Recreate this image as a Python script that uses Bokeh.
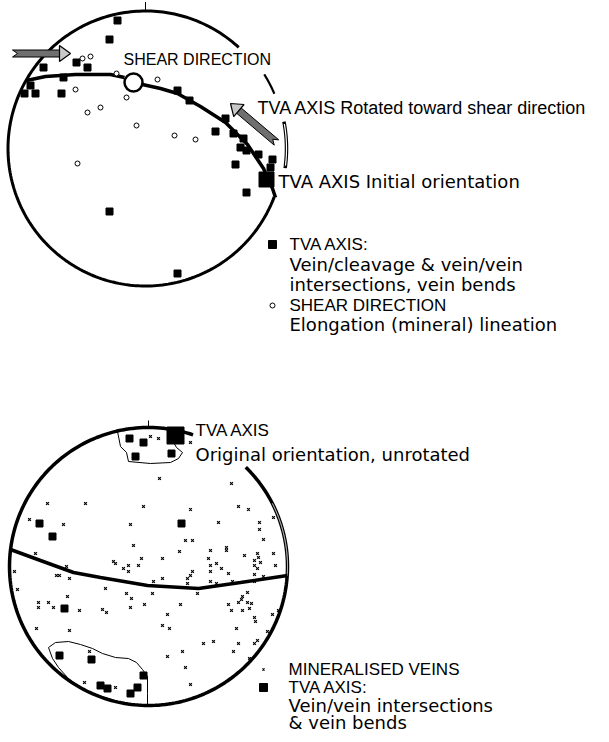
import numpy as np
from bokeh.plotting import figure
from bokeh.models import Range1d
from bokeh.embed import file_html
from bokeh.resources import INLINE
from bokeh.core.properties import value

# ---------------- DATA (offsets from each net centre, y up, net radius ~138) ----------------
# Upper net: TVA axes (filled squares)
top_tva_x = [-28, -36, -69, -58, -102, -82, -115, -121, -110, -84, 32, 44, 80, 70, 88, 98, 95, 101, 113, 127, 90, 125, 101, -36, 32]
top_tva_y = [128, 109, 86, 81, 81, 71, 63, 55, 55, 55, 58, 48, 30, 17, 15, 10, 1, -2, -6, -11, -16, -19, -44, -63, -125]
top_tva_initial_x = [121]
top_tva_initial_y = [-31]
# Upper net: shear direction / elongation lineations (open circles)
top_shear_x = [-63, -55, -29, -70, -19, -45, -58, -9, 12, 29, 50, -68]
top_shear_y = [90, 92, 75, 59, 51, 41, 36, 23, 69, 13, 9, -15]
top_shear_mean_x = [-12]
top_shear_mean_y = [66]
# Upper net: great circle (two parts either side of the mean shear direction)
top_gc_left_x = [-119, -100, -70, -35, -21]
top_gc_left_y = [68, 72, 74, 74, 71]
top_gc_right_x = [-3, 15, 32, 55, 80, 102, 118, 127, 130]
top_gc_right_y = [64, 60, 55, 42, 26, 4, -20, -40, -49]
# Upper net: shear-sense arrows (tail, tip)
arrow1_tail, arrow1_tip = (-133, 95), (-75, 95)
arrow2_tail, arrow2_tip = (131, 6), (85, 45)

# Lower net: TVA axes
bot_tva_x = [-19, -5, -13, 23, -109, -96, 33, -84, -89, -57, -48, -41, -5, -11, -18]
bot_tva_y = [128, 124, 110, 113, 43, 30, 43, -42, -89, -93, -119, -122, -109, -121, -127]
bot_tva_orig_x = [27]
bot_tva_orig_y = [131]
# Lower net: mineralised veins (poles)
vein_x = [2, 10, 42, 11, 83, -101, -63, -5, 42, 90, 100, 125, -119, -85, -18, 70, 111, 111, -15, 37, 44, 115,
          31, 62, 78, 78, 96, 125, 109, 110, 106, 112, 106, 109, 127, -7, 14, 60, -35, -33, -25, -20, -20, -10,
          68, 62, 62, 73, 80, 106, 115, 44, 42, 39, 39, 14, 5, 62, 68, 84, 106, -113, -134, -92, -89, -79, -82,
          -131, -43, -22, -17, -18, -4, 4, -110, -110, -100, -95, -81, -69, -46, -42, -112, -79, 49, 32, 19, 14,
          21, 99, 94, 93, 80, 83, 90, 99, 103, 101, 94, 106, 107, 124, 130, 88, 119, 109, 106, 90, 85, 55, 65,
          34, 19, 37, 101, 42, -59, -64, -33]
vein_y = [130, 128, 124, 88, 83, 63, 63, 60, 57, 60, 57, 49, 47, 42, 42, 44, 44, 37, 21, 26, 26, 27,
          15, 16, 19, 16, 11, 13, 13, 9, 6, 4, 1, -2, 1, 8, 8, 8, 5, 3, -2, 1, -5, 1,
          3, 1, -5, -2, -7, -8, -10, -5, -9, -12, -17, -12, -15, -15, -17, -15, -15, 13, -5, -9, -9, -12, 0,
          -23, -22, -27, -32, -41, -38, -27, -36, -41, -36, -41, -30, -44, -43, -46, -62, -64, -27, -38, -48, -59,
          -62, -26, -30, -33, -38, -44, -36, -36, -37, -42, -44, -51, -55, -48, -44, -62, -65, -74, -77, -77, -85, -77, -75,
          -85, -90, -101, -92, -118, -85, -116, -121]
# Lower net: great circle
bot_gc_x = [-138, -108, -75, -48, -1, 50, 92, 139]
bot_gc_y = [17, 6, -6, -11, -19, -22, -16, -9]
# Lower net: outlined TVA clusters
bot_out1_x = [-31, -28, -22, -20, 2, 22, 30, 34, 28, 24, 20]
bot_out1_y = [135, 120, 114, 105, 103, 104, 108, 114, 119, 126, 137]
bot_out2_x = [-70, -81, -90, -96, -100, -93, -80, -68, -56, -46, -33, -20, -12, -6, -1, -1, -1]
bot_out2_y = [-121, -111, -101, -92, -81, -76, -75, -78, -82, -87, -91, -92, -96, -103, -110, -127, -139]

# ---------------- LAYOUT ----------------
W, H = 593, 734
TOP_C = (145.0, 742 - 148.0)
R_TOP = 137.5
BOT_C = (148.0, 742 - 566.0)
R_BOT = 139.0

p = figure(width=W, height=H, x_range=Range1d(0, W), y_range=Range1d(742 - H, 742),
           output_backend="svg", toolbar_location=None, min_border=0)
p.axis.visible = False
p.grid.visible = False
p.outline_line_color = None
p.background_fill_color = "white"
p.border_fill_color = "white"


def sh(c, xs, ys):
    return [c[0] + v for v in xs], [c[1] + v for v in ys]


def arc(c, r, a0, a1, **kw):
    t = np.deg2rad(np.linspace(a0, a1, 240))
    p.line(c[0] + r * np.cos(t), c[1] + r * np.sin(t), **kw)


def arrow(c, tail, tip, w=3.5, hl=11, hw=8):
    T = np.array([c[0] + tail[0], c[1] + tail[1]])
    P = np.array([c[0] + tip[0], c[1] + tip[1]])
    u = (P - T) / np.linalg.norm(P - T)
    n = np.array([-u[1], u[0]])
    B = P - hl * u
    shaft = [T + n * w, B + n * w, B - n * w, T - n * w, T + u * 5]
    p.patch([q[0] for q in shaft], [q[1] for q in shaft], fill_color="#6f6f6f",
            line_color="black", line_width=1)
    head = [B + n * hw, P, B - n * hw]
    p.patch([q[0] for q in head], [q[1] for q in head], fill_color="#c8c8c8",
            line_color="black", line_width=1.2)


# ---- upper net ----
arc(TOP_C, R_TOP, 47.3, 339.4, line_color="black", line_width=3)
arc(TOP_C, 140, 23, 32, line_color="black", line_width=2.2)
arc(TOP_C, 141, -8, 11, line_color="black", line_width=3.5)
arc(TOP_C, 141, -7, 10, line_color="white", line_width=1.2)
p.line([TOP_C[0], TOP_C[0]], [TOP_C[1] + R_TOP, TOP_C[1] + R_TOP + 9], line_color="black", line_width=1)

x, y = sh(TOP_C, top_gc_left_x, top_gc_left_y)
p.line(x, y, line_color="black", line_width=3.5)
x, y = sh(TOP_C, top_gc_right_x, top_gc_right_y)
p.line(x, y, line_color="black", line_width=3.5)

x, y = sh(TOP_C, top_tva_x, top_tva_y)
p.scatter(x, y, marker="square", size=7, color="black")
x, y = sh(TOP_C, top_tva_initial_x, top_tva_initial_y)
p.scatter(x, y, marker="square", size=15, color="black")
x, y = sh(TOP_C, top_shear_x, top_shear_y)
p.scatter(x, y, marker="circle", size=5, fill_color="white", line_color="black", line_width=1)
x, y = sh(TOP_C, top_shear_mean_x, top_shear_mean_y)
p.scatter(x, y, marker="circle", size=18, fill_color="white", line_color="black", line_width=2.5)

arrow(TOP_C, arrow1_tail, arrow1_tip)
arrow(TOP_C, arrow2_tail, arrow2_tip)

# ---- lower net ----
arc(BOT_C, R_BOT, 71.3, 405.6, line_color="black", line_width=3.5)
arc(BOT_C, R_BOT, -4, 27, line_color="white", line_width=1)
p.line([BOT_C[0], BOT_C[0]], [BOT_C[1] + R_BOT, BOT_C[1] + R_BOT + 7], line_color="black", line_width=1)

x, y = sh(BOT_C, bot_gc_x, bot_gc_y)
p.line(x, y, line_color="black", line_width=3.5)
x, y = sh(BOT_C, bot_out1_x, bot_out1_y)
p.line(x, y, line_color="black", line_width=1)
x, y = sh(BOT_C, bot_out2_x, bot_out2_y)
p.line(x, y, line_color="black", line_width=1)

x, y = sh(BOT_C, vein_x, vein_y)
p.scatter(x, y, marker="x", size=4, line_color="black", line_width=1.2)
x, y = sh(BOT_C, bot_tva_x, bot_tva_y)
p.scatter(x, y, marker="square", size=7, color="black")
x, y = sh(BOT_C, bot_tva_orig_x, bot_tva_orig_y)
p.scatter(x, y, marker="square", size=17, color="black")

# ---- legend markers ----
p.scatter([272], [742 - 244], marker="square", size=8, color="black")
p.scatter([272], [742 - 305], marker="circle", size=5, fill_color="white", line_color="black")
p.scatter([263], [742 - 669], marker="x", size=3, line_color="black", line_width=1.2)
p.scatter([263], [742 - 687], marker="square", size=8, color="black")

# ---- texts (y = vertical centre of the line) ----
CAPS = "Liberation Sans"
MIXED = "DejaVu Sans"
labels = [
    ("SHEAR DIRECTION", 123, 59, CAPS, "16px"),
    ("TVA AXIS Rotated toward shear direction", 257, 107, CAPS, "18px"),
    ("TVA AXIS Initial orientation", 278, 181, MIXED, "18px"),
    ("TVA AXIS:", 289, 244, CAPS, "17px"),
    ("Vein/cleavage & vein/vein", 289, 264, MIXED, "18px"),
    ("intersections, vein bends", 289, 284, MIXED, "18px"),
    ("SHEAR DIRECTION", 289, 305, CAPS, "17px"),
    ("Elongation (mineral) lineation", 289, 324, MIXED, "18px"),
    ("TVA AXIS", 195, 430, CAPS, "17px"),
    ("Original orientation, unrotated", 195, 454, MIXED, "18px"),
    ("MINERALISED VEINS", 288, 669, CAPS, "17px"),
    ("TVA AXIS:", 288, 687, CAPS, "17px"),
    ("Vein/vein intersections", 288, 705, MIXED, "18px"),
    ("& vein bends", 288, 722, MIXED, "18px"),
]
for txt, tx, ty, font, fs in labels:
    p.text([tx], [742 - ty], text=[txt], text_font=value(font), text_font_size=value(fs),
           text_color="black", text_baseline="middle", text_align="left")

open("out.html", "w").write(file_html(p, INLINE))
